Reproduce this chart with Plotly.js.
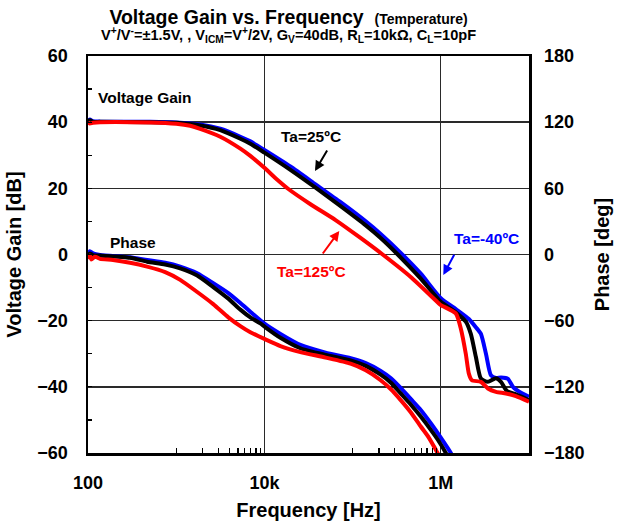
<!DOCTYPE html>
<html>
<head>
<meta charset="utf-8">
<script src="https://cdn.plot.ly/plotly-3.0.1.min.js"></script>
<style>
  html, body { margin: 0; padding: 0; background: #fff; }
  #chart { width: 620px; height: 525px; }
</style>
</head>
<body>
<div id="chart"></div>
<script>
// ---- Gain (dB) vs frequency (Hz), one set per ambient temperature ----
const gainFreqM40 = [100, 105, 114, 137, 507, 1000, 1870, 3160, 5340, 6930, 10000, 19700, 38000, 73100, 141000, 208000, 351000, 593000, 1000000, 1480000, 2080000, 2500000, 2850000, 3250000, 3700000, 4220000, 4810000, 5770000, 6580000, 8110000, 10000000];
const gainM40     = [40.5, 40.8, 40.3, 40.2, 40.1, 39.9, 39.3, 38.0, 35.6, 34.2, 31.6, 26.6, 21.2, 15.8, 10.0, 6.2, 0.5, -5.8, -13.2, -16.5, -19.5, -22, -24, -30, -36.5, -37.3, -37.2, -37.6, -40, -41.8, -43];

const gainFreq25 = [100, 105, 114, 137, 507, 1000, 1870, 3160, 5340, 6930, 10000, 19700, 38000, 73100, 141000, 208000, 325000, 593000, 1000000, 1480000, 1920000, 2190000, 2500000, 2850000, 3420000, 4220000, 4810000, 5620000, 7110000, 10000000];
const gain25     = [40.3, 40.6, 40.1, 40.1, 40.0, 39.8, 39.0, 37.6, 35.0, 33.5, 30.8, 25.6, 20.2, 14.6, 8.8, 5.0, 0, -7.3, -14.3, -17.5, -20.3, -24, -31, -37.5, -38.5, -37.4, -38.5, -41.3, -42.3, -44];

const gainFreq125 = [100, 105, 114, 137, 507, 1000, 1440, 1870, 3160, 5340, 6930, 10000, 14000, 18700, 33300, 64100, 123000, 219000, 456000, 925000, 1000000, 1480000, 1690000, 1920000, 2080000, 2250000, 2850000, 3420000, 4220000, 5480000, 7110000, 10000000];
const gain125     = [40.0, 39.6, 39.8, 40.0, 39.9, 39.5, 38.9, 38.0, 35.6, 32.0, 29.8, 26.2, 22.6, 19.8, 15.2, 10.4, 5.0, 0, -6.8, -14.5, -15.3, -17.8, -22.5, -30, -36, -38, -38.5, -40.5, -41.5, -42, -42.8, -44.5];

// ---- Phase (deg) vs frequency (Hz) ----
const phaseFreqM40 = [100, 105, 114, 137, 300, 468, 750, 1110, 1730, 2630, 3900, 5340, 6930, 9750, 15200, 25600, 49400, 94900, 141000, 208000, 270000, 351000, 456000, 593000, 770000, 1000000, 1300000, 1410000];
const phaseM40     = [1, 3, 1, -0.5, -2.5, -5, -7.5, -11, -17, -26, -35, -44, -52, -62, -72, -82, -89, -94, -98.5, -105.5, -112, -121, -131, -141, -153, -166, -180, -186];

const phaseFreq25 = [100, 105, 114, 137, 300, 468, 750, 1110, 1730, 2630, 3900, 5340, 6930, 9010, 10270, 15200, 25600, 49400, 94900, 141000, 208000, 270000, 351000, 456000, 593000, 770000, 925000, 1140000, 1260000];
const phase25     = [-1, 1, -0.5, -1, -3, -6.5, -9, -12.5, -19, -29.5, -40, -50, -57, -62.5, -66, -75.5, -85, -91, -96, -101, -109, -116, -126, -136, -147, -159, -168, -180, -187];

const phaseFreq125 = [100, 105, 109, 120, 137, 192, 300, 468, 750, 1110, 1730, 2630, 3900, 5340, 6930, 10270, 15200, 25600, 49400, 94900, 141000, 208000, 270000, 351000, 456000, 593000, 731000, 877000, 949000];
const phase125     = [-4, -1, -4.5, -2, -4, -5, -7.5, -11, -16, -23, -34, -45, -57, -65, -70.5, -77, -83, -88.5, -93.5, -99, -105, -114, -122, -132, -143, -156, -166, -177, -182];

// ---- Axis ticks ----
const freqTickVals = [100, 10000, 1000000];
const freqTickText = ['100', '10k', '1M'];
const freqMinorTicks = [1000, 2000, 3000, 4000, 5000, 6000, 7000, 8000, 9000,
                        100000, 200000, 300000, 400000, 500000, 600000, 700000, 800000, 900000];

const FONT = 'Liberation Sans, Arial, Helvetica, sans-serif';
const RED = '#ff0000', BLUE = '#0000ff', BLACK = '#000000';

// plot-area pixel helpers for placing text labels
const PL = 88, PR = 529, PT = 56, PB = 453;
const px = x => (x - PL) / (PR - PL);
const py = y => (PB - y) / (PB - PT);

function line(x, y, color, axis) {
  return {
    x: x, y: y, type: 'scatter', mode: 'lines', yaxis: axis,
    line: { color: color, width: 4, shape: 'spline', smoothing: 0.6 },
    hoverinfo: 'skip', showlegend: false
  };
}

const traces = [
  line(phaseFreqM40, phaseM40, BLUE, 'y2'),
  line(phaseFreq25, phase25, BLACK, 'y2'),
  line(phaseFreq125, phase125, RED, 'y2'),
  line(gainFreqM40, gainM40, BLUE, 'y'),
  line(gainFreq25, gain25, BLACK, 'y'),
  line(gainFreq125, gain125, RED, 'y'),
  // carrier for the minor-tick frequency axis
  { x: [], y: [], type: 'scatter', mode: 'lines', xaxis: 'x2', yaxis: 'y', showlegend: false, hoverinfo: 'skip' }
];

const tickFont = { family: FONT, size: 18, color: BLACK, weight: 'bold' };
const titleFont = { family: FONT, size: 20, color: BLACK, weight: 'bold' };
const labelFont = c => ({ family: FONT, size: 15.5, color: c, weight: 'bold' });

function label(text, x, y, color) {
  return { text: text, xref: 'paper', yref: 'paper', x: px(x), y: py(y),
           xanchor: 'center', yanchor: 'middle', showarrow: false, font: labelFont(color) };
}
function pointer(x, y, ax, ay, color) {
  return { text: '', xref: 'paper', yref: 'paper', x: px(x), y: py(y), ax: ax, ay: ay,
           showarrow: true, arrowhead: 2, arrowsize: 1, arrowwidth: 2, arrowcolor: color };
}

const layout = {
  width: 620, height: 525,
  margin: { l: PL, r: 620 - PR, t: PT, b: 525 - PB, pad: 0 },
  paper_bgcolor: '#fff', plot_bgcolor: '#fff',
  showlegend: false,
  title: {
    text: 'Voltage Gain vs. Frequency&nbsp; <span style="font-size:14px">(Temperature)</span>',
    font: { family: FONT, size: 19.5, color: BLACK, weight: 'bold' },
    xref: 'paper', x: px(288.5), xanchor: 'center',
    yref: 'container', y: 1 - 17 / 525, yanchor: 'middle'
  },
  xaxis: {
    type: 'log', range: [2, 7],
    tickvals: freqTickVals, ticktext: freqTickText,
    ticks: '', tickfont: tickFont, ticklabelstandoff: 12,
    showgrid: true, gridcolor: '#2a2a2a', gridwidth: 1.4,
    showline: true, linecolor: BLACK, linewidth: 2.5, mirror: true,
    zeroline: false,
    title: { text: 'Frequency [Hz]', font: titleFont, standoff: 11 }
  },
  xaxis2: {
    type: 'log', range: [2, 7], overlaying: 'x', anchor: 'y', side: 'bottom',
    tickvals: freqMinorTicks, ticks: 'inside', ticklen: 5, tickwidth: 1.3, tickcolor: BLACK,
    showticklabels: false, showgrid: false, showline: false, zeroline: false
  },
  yaxis: {
    range: [-60, 60], dtick: 20, tick0: 0,
    ticks: 'inside', ticklen: 4, tickwidth: 1.3, tickcolor: BLACK,
    minor: { dtick: 10, ticks: 'inside', ticklen: 4, tickwidth: 1.3, tickcolor: BLACK, showgrid: false },
    tickfont: tickFont, ticklabelstandoff: 14,
    showgrid: true, gridcolor: '#2a2a2a', gridwidth: 1.4,
    showline: true, linecolor: BLACK, linewidth: 2.5, mirror: true,
    zeroline: false,
    title: { text: 'Voltage Gain [dB]', font: titleFont, standoff: 11 }
  },
  yaxis2: {
    range: [-180, 180], dtick: 60, tick0: 0,
    overlaying: 'y', side: 'right', anchor: 'x',
    ticks: '', tickfont: tickFont, ticklabelstandoff: 14,
    showgrid: false, showline: false, zeroline: false,
    title: { text: 'Phase [deg]', font: titleFont, standoff: 11 }
  },
  annotations: [
    { text: 'V<sup>+</sup>/V<sup>-</sup>=±1.5V, , V<sub>ICM</sub>=V<sup>+</sup>/2V, G<sub>V</sub>=40dB, R<sub>L</sub>=10kΩ, C<sub>L</sub>=10pF',
      xref: 'paper', yref: 'paper', x: px(288.5), y: py(35), xanchor: 'center', yanchor: 'middle',
      showarrow: false, font: { family: FONT, size: 14.6, color: BLACK, weight: 'bold' } },
    label('Voltage Gain', 144.5, 97, BLACK),
    label('Phase', 133.4, 242, BLACK),
    label('Ta=25ºC', 311, 136.7, BLACK),
    label('Ta=125ºC', 311, 271, RED),
    label('Ta=-40ºC', 486, 238.3, BLUE),
    // pointer arrows from each label to its curve
    pointer(315, 171, 13, -22, BLACK),
    pointer(339.3, 231, -17.6, 24, RED),
    pointer(443.3, 275, 11.7, -21.7, BLUE)
  ]
};

Plotly.newPlot('chart', traces, layout, { staticPlot: true, displayModeBar: false });
</script>
</body>
</html>
